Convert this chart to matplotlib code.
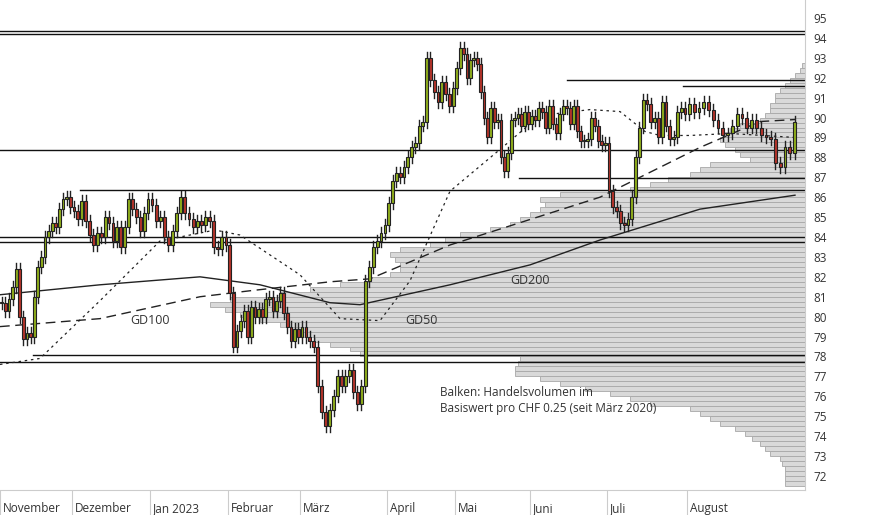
import matplotlib
matplotlib.use("Agg")
import matplotlib.pyplot as plt
import numpy as np

plt.rcParams['font.family'] = ['Open Sans', 'DejaVu Sans']

# Monatsbeginn (Pixelposition im Chart) und Schlusskurse je Monat
months = ["November", "Dezember", "Jan 2023", "Februar", "März", "April", "Mai", "Juni", "Juli", "August"]
month_x = [0, 72, 150, 228, 300, 387, 455, 530, 607, 687, 797]

closes = [
    [80.7, 80.3, 80.9, 81.5, 82.4, 80.0, 78.9, 79.2, 79.0, 81.0, 82.5, 83.0, 84.0, 84.3, 84.7, 84.5, 85.4, 85.9, 86.0, 85.5],
    [85.3, 84.9, 85.8, 84.8, 84.1, 83.6, 84.2, 84.0, 85.0, 84.7, 83.8, 84.5, 83.5, 84.5, 85.9, 85.4, 85.0, 84.3, 85.2, 85.9],
    [85.6, 84.8, 85.0, 84.0, 83.6, 84.3, 85.2, 86.0, 85.2, 84.9, 84.5, 84.8, 84.6, 85.0, 84.8, 83.5, 83.4, 84.0, 83.6],
    [81.2, 78.5, 79.3, 79.8, 80.3, 79.0, 80.5, 80.0, 80.4, 80.0, 80.9, 81.0, 80.3, 80.8, 81.2, 80.2, 79.5, 78.8, 79.4, 79.0],
    [79.5, 79.0, 78.8, 78.5, 76.5, 75.2, 74.5, 75.3, 76.0, 77.0, 76.5, 77.0, 77.3, 76.2, 75.6, 76.5, 81.8, 82.5, 83.5, 83.8, 84.2, 84.6],
    [85.7, 86.8, 87.2, 87.0, 87.5, 88.0, 88.5, 88.7, 89.6, 89.8, 93.0, 91.9, 91.3, 90.8, 91.8, 91.2, 90.6, 91.5],
    [92.5, 93.5, 93.2, 92.0, 92.9, 93.0, 92.7, 91.3, 90.0, 89.0, 90.5, 89.8, 89.9, 88.0, 87.3, 88.2, 89.9, 90.0, 90.2, 89.6, 90.3, 89.7],
    [90.1, 89.9, 90.5, 90.3, 89.5, 90.6, 89.7, 89.2, 90.2, 90.6, 90.5, 89.7, 90.6, 89.3, 88.8, 88.8, 88.9, 90.0, 89.6, 88.8, 88.6, 88.7],
    [86.3, 85.5, 85.3, 84.7, 84.6, 84.9, 86.0, 88.0, 89.5, 90.9, 90.7, 89.8, 90.0, 89.0, 90.8, 89.6, 88.9, 89.0, 90.3, 90.5, 90.2],
    [90.7, 90.3, 90.5, 90.8, 90.4, 89.9, 89.5, 89.1, 89.2, 89.6, 90.2, 90.0, 89.5, 89.9, 89.5, 89.1, 89.0, 88.9, 87.7, 87.5, 88.5, 88.2, 89.8],
]

# Gleitende Durchschnitte (Stützpunkte: Pixel-x, Kurs)
gd50_x = [0, 40, 100, 160, 215, 240, 300, 340, 380, 410, 450, 500, 540, 590, 620, 645, 660, 690, 730, 795]
gd50_y = [77.6, 77.9, 80.8, 83.8, 84.35, 84.1, 82.1, 79.9, 79.8, 81.8, 86.3, 88.4, 90.1, 90.4, 90.3, 89.3, 89.1, 89.1, 89.2, 89.0]
gd100_x = [0, 100, 200, 250, 330, 370, 450, 600, 700, 760, 795]
gd100_y = [79.5, 79.9, 81.0, 81.3, 81.75, 81.9, 83.6, 86.0, 88.5, 89.8, 89.9]
gd200_x = [0, 100, 200, 260, 330, 360, 450, 530, 600, 700, 795]
gd200_y = [81.1, 81.6, 82.0, 81.6, 80.7, 80.6, 81.6, 82.6, 83.85, 85.4, 86.1]

# Volumenprofil (linke Kante der Balken in Pixel) pro CHF 0.25
vol_price = np.arange(71.5, 94.5, 0.25)
vol_left = [785, 785, 785, 785, 782, 780, 770, 765, 760, 752, 745, 735, 720, 710, 700, 690, 650, 630, 610, 585,
            560, 540, 515, 515, 518, 520, 360, 350, 330, 315, 300, 290, 280, 260, 240, 225, 210, 230, 280, 310,
            340, 370, 390, 400, 400, 395, 390, 400, 430, 445, 460, 490, 510, 520, 530, 540, 545, 540, 560, 630,
            650, 668, 690, 700, 710, 750, 740, 735, 725, 720, 723, 730, 740, 760, 765, 770, 770, 775, 775, 780,
            785, 790, 795, 800, 802, 805, 805, 805, 805, 805, 805, 805]

fig = plt.figure(figsize=(8.74, 5.15), dpi=100)
ax = fig.add_axes([0, 25 / 515, 805 / 874, 490 / 515])
ax.set_xlim(0, 805)
ax.set_ylim(95 - 472 / 19.91, 95 + 18 / 19.91)

# Volumenbalken
w = np.array([805 - v for v in vol_left])
ax.barh(vol_price + 0.125, w, left=805 - w, height=0.25, color="#d9d9d9", edgecolor="#a8a8a8", lw=0.6, zorder=1)

# Kerzen
prev = closes[0][0]
for m, cl in enumerate(closes):
    step = (month_x[m + 1] - month_x[m]) / len(cl)
    for k, c in enumerate(cl):
        x = month_x[m] + (k + 0.5) * step
        o = prev
        hi, lo = max(o, c) + 0.3, min(o, c) - 0.3
        col = "#8fae1b" if c >= o else "#b5332a"
        ax.plot([x, x], [lo, hi], color="#222222", lw=1, zorder=4)
        ax.bar(x, max(abs(c - o), 0.05), bottom=min(o, c), width=2.8, color=col, edgecolor="#222222", lw=0.8, zorder=5)
        prev = c

ax.plot(gd50_x, gd50_y, color="#222222", lw=0.9, ls=(0, (2, 3)), zorder=3)
ax.plot(gd100_x, gd100_y, color="#222222", lw=1, ls=(0, (7, 4)), zorder=3)
ax.plot(gd200_x, gd200_y, color="#222222", lw=1, zorder=3)
ax.text(130, 79.8, "GD100", fontsize=9, color="#333333", va="center", zorder=6)
ax.text(405, 79.8, "GD50", fontsize=9, color="#333333", va="center", zorder=6)
ax.text(510, 81.8, "GD200", fontsize=9, color="#333333", va="center", zorder=6)

# Unterstützungen / Widerstände
levels = [(94.35, 0), (94.2, 0), (91.9, 567), (91.6, 683), (88.37, 0), (86.96, 519), (86.36, 80),
          (84.0, 0), (83.75, 0), (78.07, 33), (77.7, 0)]
for lv, x0 in levels:
    ax.plot([x0, 805], [lv, lv], color="#111111", lw=1, zorder=2)

ax.text(440, 75.2, "Balken: Handelsvolumen im\nBasiswert pro CHF 0.25 (seit März 2020)", fontsize=8.5,
        color="#333333", linespacing=1.3, zorder=6)

ax.yaxis.tick_right()
ax.set_yticks(range(72, 96))
ax.tick_params(axis="y", length=0, labelsize=8.5, colors="#333333", pad=6)
ax.set_xticks(month_x[:-1])
ax.set_xticklabels([])
ax.tick_params(axis="x", length=25, color="#cccccc", direction="out")
for mx, name in zip(month_x, months):
    ax.text(mx + 3, -0.045, name, transform=ax.get_xaxis_transform(), fontsize=8.5, color="#333333", va="baseline")
for s in ["top", "left"]:
    ax.spines[s].set_visible(False)
ax.spines["right"].set_color("#cccccc")
ax.spines["bottom"].set_color("#cccccc")

fig.savefig("out.png", dpi=100)
